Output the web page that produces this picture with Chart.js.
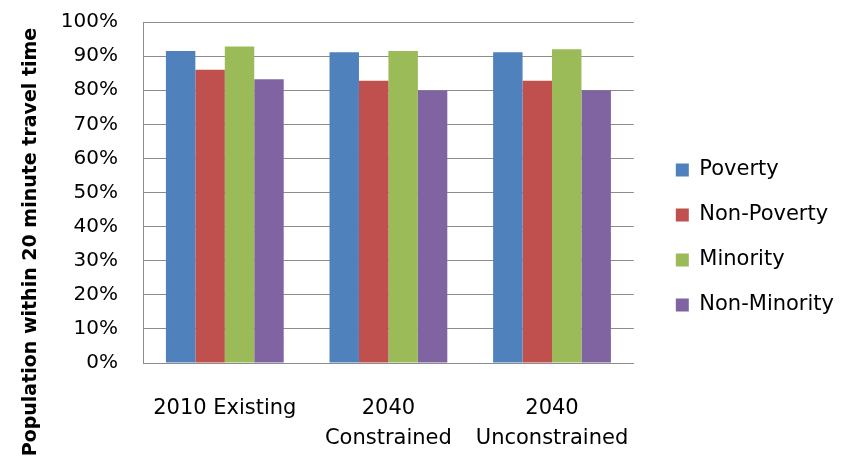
<!DOCTYPE html>
<html>
<head>
<meta charset="utf-8">
<script src="https://cdn.jsdelivr.net/npm/chart.js@4"></script>
<style>
  html, body { margin: 0; padding: 0; background: #fff; }
  #wrap { width: 844px; height: 461px; }
</style>
</head>
<body>
<div id="wrap"><canvas id="travelChart" width="844" height="461"></canvas></div>
<script>
// scenarios on the x axis
const scenarios = [['2010 Existing'], ['2040', 'Constrained'], ['2040', 'Unconstrained']];

// share of population within 20 minute travel time (%)
const poverty = [91.5, 91.1, 91.1];
const nonPoverty = [86.0, 82.8, 82.8];
const minority = [92.8, 91.5, 92.0];
const nonMinority = [83.2, 79.9, 80.0];

const yTicks = [0, 10, 20, 30, 40, 50, 60, 70, 80, 90, 100];
const yTitle = 'Population within 20 minute travel time';

const font = "'DejaVu Sans', sans-serif";

// y title is centred lower than the plot, like the original, so draw it here
const yTitlePlugin = {
  id: 'yTitle',
  afterDraw(chart) {
    const c = chart.ctx;
    c.save();
    c.translate(31, 242);
    c.rotate(-Math.PI / 2);
    c.font = 'bold 19px ' + font;
    c.fillStyle = '#000';
    c.textAlign = 'center';
    c.textBaseline = 'middle';
    c.fillText(yTitle, 0, 0);
    c.restore();
  },
};

const config = {
  type: 'bar',
  data: {
    labels: scenarios,
    datasets: [
      { label: 'Poverty', data: poverty, backgroundColor: '#4F81BD' },
      { label: 'Non-Poverty', data: nonPoverty, backgroundColor: '#C0504D' },
      { label: 'Minority', data: minority, backgroundColor: '#9BBB59' },
      { label: 'Non-Minority', data: nonMinority, backgroundColor: '#8064A2' },
    ],
  },
  options: {
    responsive: false,
    animation: false,
    layout: { padding: { top: 14, bottom: 0, left: 0, right: 0 } },
    datasets: {
      bar: { categoryPercentage: 0.72, barPercentage: 1.0 },
    },
    plugins: {
      tooltip: { enabled: false },
      legend: {
        position: 'right',
        maxWidth: 260,
        labels: {
          font: { family: font, size: 21 },
          color: '#000',
          boxWidth: 13,
          boxHeight: 13,
          padding: 24,
        },
      },
    },
    scales: {
      x: {
        grid: { display: false },
        border: { display: true, color: '#8c8c8c', width: 1 },
        afterFit: (axis) => {
          axis.height = 98;
        },
        ticks: {
          font: { family: font, size: 21, lineHeight: 1.4 },
          color: '#000',
          padding: 23,
          maxRotation: 0,
        },
      },
      y: {
        min: 0,
        max: 100,
        afterBuildTicks: (axis) => {
          axis.ticks = yTicks.map((v) => ({ value: v }));
        },
        afterFit: (axis) => {
          axis.width = 143;
          axis.paddingTop = 22;
          axis.paddingBottom = 0;
        },
        grid: { color: '#8c8c8c', lineWidth: 1, drawTicks: false },
        border: { display: true, color: '#8c8c8c', width: 1 },
        ticks: {
          font: { family: font, size: 20 },
          color: '#000',
          padding: 25,
          callback: (v) => v + '%',
        },
      },
      gap: {
        position: 'right',
        display: true,
        grid: { display: false },
        border: { display: false },
        ticks: { display: false },
        afterFit: (axis) => {
          axis.width = 18;
          axis.paddingTop = 0;
          axis.paddingBottom = 0;
        },
      },
    },
  },
  plugins: [yTitlePlugin],
};

const ctx = document.getElementById('travelChart').getContext('2d');
new Chart(ctx, config);
</script>
</body>
</html>
